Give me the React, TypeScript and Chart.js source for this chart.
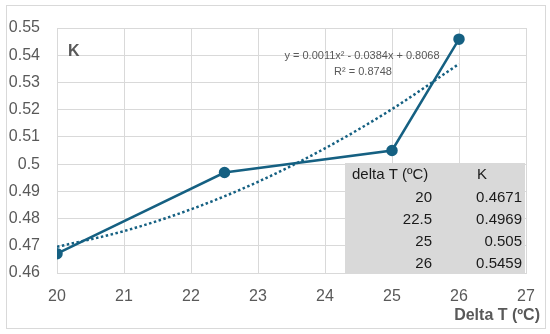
import React, { useEffect, useRef } from "react";
import { Chart, registerables } from "chart.js";

Chart.register(...registerables);

const deltaT = [20, 22.5, 25, 26];
const kValues = [0.4671, 0.4969, 0.505, 0.5459];
const trendX = [20, 21, 22, 23, 24, 25, 26];
const trendY = [0.4696, 0.4754, 0.4834, 0.4935, 0.5058, 0.5202, 0.5368];
const tableDeltaT = ["20", "22.5", "25", "26"];
const tableK = ["0.4671", "0.4969", "0.505", "0.5459"];
const equationText = "y = 0.0011x\u00b2 - 0.0384x + 0.8068";
const r2Text = "R\u00b2 = 0.8748";
const xTitle = "Delta T (\u00baC)";
const yTitle = "K";

const FONT = '"Liberation Sans", Arial, sans-serif';
const LINE = "#156082";
const GRAY = "#595959";

export default function App() {
  const ref = useRef<HTMLCanvasElement | null>(null);
  useEffect(() => {
    if (!ref.current) return;
    const overlay = {
      id: "overlay",
      beforeDraw(chart: any) {
        const ctx = chart.ctx;
        ctx.save();
        ctx.fillStyle = "#ffffff";
        ctx.fillRect(0, 0, chart.width, chart.height);
        ctx.strokeStyle = "#d9d9d9";
        ctx.lineWidth = 1;
        ctx.strokeRect(6.5, 5.5, 539, 323);
        ctx.restore();
      },
      beforeDatasetsDraw(chart: any) {
        const ctx = chart.ctx;
        ctx.save();
        ctx.fillStyle = "#d9d9d9";
        ctx.fillRect(345, 163, 180, 111);
        ctx.fillStyle = "#1a1a1a";
        ctx.font = `15px ${FONT}`;
        ctx.textBaseline = "middle";
        const rows = [175, 197.5, 220, 242, 264];
        ctx.textAlign = "left";
        ctx.fillText("delta T (\u00baC)", 352, rows[0]);
        ctx.fillText("K", 477, rows[0]);
        ctx.textAlign = "right";
        for (let i = 0; i < tableDeltaT.length; i++) {
          ctx.fillText(tableDeltaT[i], 432, rows[i + 1]);
          ctx.fillText(tableK[i], 522, rows[i + 1]);
        }
        ctx.restore();
      },
      afterDraw(chart: any) {
        const ctx = chart.ctx;
        ctx.save();
        ctx.fillStyle = GRAY;
        ctx.textBaseline = "middle";
        ctx.font = `bold 16px ${FONT}`;
        ctx.textAlign = "right";
        ctx.fillText(xTitle, 540, 316);
        ctx.textAlign = "left";
        ctx.fillText(yTitle, 68, 52);
        ctx.font = `11px ${FONT}`;
        ctx.textAlign = "center";
        ctx.fillText(equationText, 362, 56);
        ctx.fillText(r2Text, 363, 72);
        ctx.restore();
      },
    };
    const chart = new Chart(ref.current, {
      type: "line",
      data: {
        datasets: [
          {
            label: "K",
            data: deltaT.map((x, i) => ({ x, y: kValues[i] })),
            borderColor: LINE,
            backgroundColor: LINE,
            borderWidth: 2.5,
            pointRadius: 4.5,
            pointBackgroundColor: LINE,
            pointBorderColor: LINE,
            tension: 0,
            order: 1,
          },
          {
            label: "Trend",
            data: trendX.map((x, i) => ({ x, y: trendY[i] })),
            borderColor: LINE,
            borderWidth: 2.5,
            borderDash: [2.5, 2.5],
            pointRadius: 0,
            cubicInterpolationMode: "monotone",
            order: 2,
          },
        ],
      },
      options: {
        animation: false,
        responsive: false,
        maintainAspectRatio: false,
        layout: { padding: { left: 0, top: 28, right: 24, bottom: 0 } },
        plugins: {
          legend: { display: false },
          tooltip: { enabled: false },
        },
        scales: {
          x: {
            type: "linear",
            min: 20,
            max: 27,
            ticks: {
              stepSize: 1,
              color: GRAY,
              font: { family: FONT, size: 16 },
              padding: 14,
            },
            grid: { color: "#d9d9d9", drawTicks: false },
            border: { color: "#d9d9d9" },
            afterFit: (s: any) => {
              s.height = 61;
            },
          },
          y: {
            type: "linear",
            min: 0.46,
            max: 0.55,
            ticks: {
              stepSize: 0.01,
              color: GRAY,
              font: { family: FONT, size: 16 },
              padding: 17,
              callback: (v: any) => String(Number(Number(v).toFixed(2))),
            },
            grid: { color: "#d9d9d9", drawTicks: false },
            border: { color: "#d9d9d9" },
            afterFit: (s: any) => {
              s.width = 57;
            },
          },
        },
      },
      plugins: [overlay],
    } as any);
    return () => chart.destroy();
  }, []);
  return (
    <div style={{ position: "absolute", left: 0, top: 0, width: 550, height: 334 }}>
      <canvas ref={ref} width={550} height={334} style={{ width: 550, height: 334, display: "block" }} />
    </div>
  );
}
